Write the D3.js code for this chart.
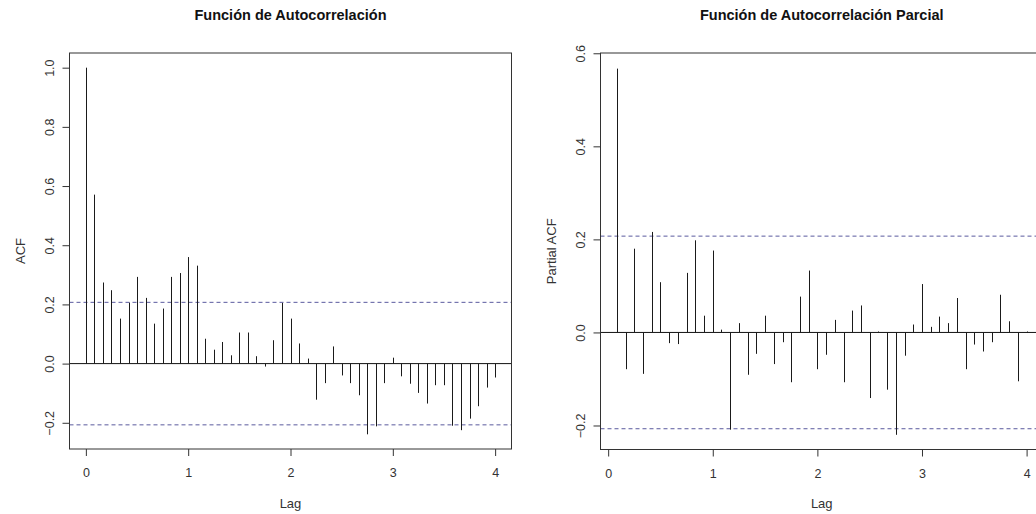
<!DOCTYPE html>
<html>
<head>
<meta charset="utf-8">
<script src="https://cdn.jsdelivr.net/npm/d3@7"></script>
<style>
  body { margin: 0; background: #fff; }
  svg { display: block; font-family: "Liberation Sans", Arial, sans-serif; }
</style>
</head>
<body>
<div id="container"></div>
<script>
/* CONSTANTS AND GLOBALS */
const width = 1036,
  height = 514;

// lag axis is in years, series observed monthly
const frequency = 12;

// ACF values, lag 0 .. 48
const acfValues = [
  1.000, 0.571, 0.274, 0.248, 0.152, 0.206, 0.293, 0.222, 0.135, 0.186,
  0.293, 0.306, 0.360, 0.331, 0.084, 0.047, 0.073, 0.028, 0.105, 0.105,
  0.025, -0.010, 0.079, 0.205, 0.152, 0.068, 0.017, -0.122, -0.066, 0.058,
  -0.040, -0.066, -0.107, -0.239, -0.212, -0.066, 0.020, -0.043, -0.068, -0.099,
  -0.135, -0.073, -0.073, -0.210, -0.225, -0.186, -0.144, -0.081, -0.047
];

// PACF values, lag 1 .. 48
const pacfValues = [
  0.567, -0.079, 0.180, -0.089, 0.216, 0.108, -0.023, -0.025, 0.128, 0.198,
  0.036, 0.176, 0.006, -0.209, 0.020, -0.091, -0.046, 0.036, -0.068, -0.021,
  -0.107, 0.077, 0.133, -0.079, -0.048, 0.027, -0.107, 0.047, 0.058, -0.141,
  0.002, -0.123, -0.220, -0.050, 0.017, 0.104, 0.012, 0.034, 0.020, 0.074,
  -0.079, -0.026, -0.041, -0.021, 0.081, 0.024, -0.105, 0.002
];

// 95% confidence bound
const ciBound = 0.207;

const xTicks = [0, 1, 2, 3, 4];
const acfYTicks = [-0.2, 0.0, 0.2, 0.4, 0.6, 0.8, 1.0];
const pacfYTicks = [-0.2, 0.0, 0.2, 0.4, 0.6];

const panels = [
  {title: "Función de Autocorrelación", ylab: "ACF",
   values: acfValues, firstLag: 0,
   xDomain: [-0.16, 4.16], yDomain: [-0.2886, 1.0496], yTicks: acfYTicks,
   left: 69.5, right: 511.5, top: 53, bottom: 449},
  {title: "Función de Autocorrelación Parcial", ylab: "Partial ACF",
   values: pacfValues, firstLag: 1,
   xDomain: [-0.0733, 4.1567], yDomain: [-0.2516, 0.6006], yTicks: pacfYTicks,
   left: 600.5, right: 1043, top: 53, bottom: 449.5}
];

const svg = d3.select("#container")
  .append("svg")
  .attr("width", width)
  .attr("height", height);

panels.forEach(p => {
  const g = svg.append("g");

  /* SCALES */
  const xScale = d3.scaleLinear().domain(p.xDomain).range([p.left, p.right]);
  const yScale = d3.scaleLinear().domain(p.yDomain).range([p.bottom, p.top]);

  // clip so reference lines stay inside the box
  const clipId = "clip-" + p.ylab.replace(/\s/g, "");
  svg.append("clipPath").attr("id", clipId)
    .append("rect")
    .attr("x", p.left).attr("y", p.top)
    .attr("width", p.right - p.left).attr("height", p.bottom - p.top);

  const inner = g.append("g").attr("clip-path", `url(#${clipId})`);

  // zero line
  inner.append("line")
    .attr("x1", p.left).attr("x2", p.right)
    .attr("y1", yScale(0)).attr("y2", yScale(0))
    .style("stroke", "#111").style("stroke-width", 1);

  // confidence bounds
  [ciBound, -ciBound].forEach(v => {
    inner.append("line")
      .attr("x1", p.left).attr("x2", p.right)
      .attr("y1", yScale(v)).attr("y2", yScale(v))
      .style("stroke", "#5a5a9e").style("stroke-width", 1)
      .style("stroke-dasharray", "4,3");
  });

  // spikes
  inner.selectAll(".spike")
    .data(p.values)
    .join("line")
    .attr("class", "spike")
    .attr("x1", (d, i) => Math.round(xScale((i + p.firstLag) / frequency)) + 0.5)
    .attr("x2", (d, i) => Math.round(xScale((i + p.firstLag) / frequency)) + 0.5)
    .attr("y1", yScale(0))
    .attr("y2", d => yScale(d))
    .style("stroke", "#1a1a1a").style("stroke-width", 1);

  // box
  g.append("rect")
    .attr("x", p.left).attr("y", p.top)
    .attr("width", p.right - p.left).attr("height", p.bottom - p.top)
    .style("fill", "none").style("stroke", "#333").style("stroke-width", 1);

  /* AXES */
  const xAxis = d3.axisBottom(xScale).tickValues(xTicks).tickSize(7)
    .tickFormat(d3.format("d"));
  const gx = g.append("g")
    .attr("transform", `translate(0, ${p.bottom})`)
    .call(xAxis);
  gx.select(".domain").remove();
  gx.selectAll(".tick line").style("stroke", "#333");
  gx.selectAll(".tick text")
    .attr("y", 28).attr("dy", 0)
    .style("font-size", "12.5px").style("fill", "#333");

  const yAxis = d3.axisLeft(yScale).tickValues(p.yTicks).tickSize(7)
    .tickFormat(d3.format(".1f"));
  const gy = g.append("g")
    .attr("transform", `translate(${p.left}, 0)`)
    .call(yAxis);
  gy.select(".domain").remove();
  gy.selectAll(".tick line").style("stroke", "#333");
  gy.selectAll(".tick text")
    .attr("x", 0).attr("y", -16).attr("dy", 0)
    .attr("text-anchor", "middle")
    .attr("transform", "rotate(-90)")
    .style("font-size", "12.5px").style("fill", "#333");

  /* LABELS */
  const cx = (p.left + p.right) / 2,
        cy = (p.top + p.bottom) / 2;

  g.append("text")
    .attr("x", cx).attr("y", 20)
    .attr("text-anchor", "middle")
    .style("font-weight", "bold").style("font-size", "14.5px")
    .style("fill", "#111")
    .text(p.title);

  g.append("text")
    .attr("x", cx).attr("y", 508)
    .attr("text-anchor", "middle")
    .style("font-size", "13px").style("fill", "#333")
    .text("Lag");

  g.append("text")
    .attr("transform", `translate(${p.left - 45}, ${cy}) rotate(-90)`)
    .attr("text-anchor", "middle")
    .style("font-size", "13px").style("fill", "#333")
    .text(p.ylab);
});
</script>
</body>
</html>
